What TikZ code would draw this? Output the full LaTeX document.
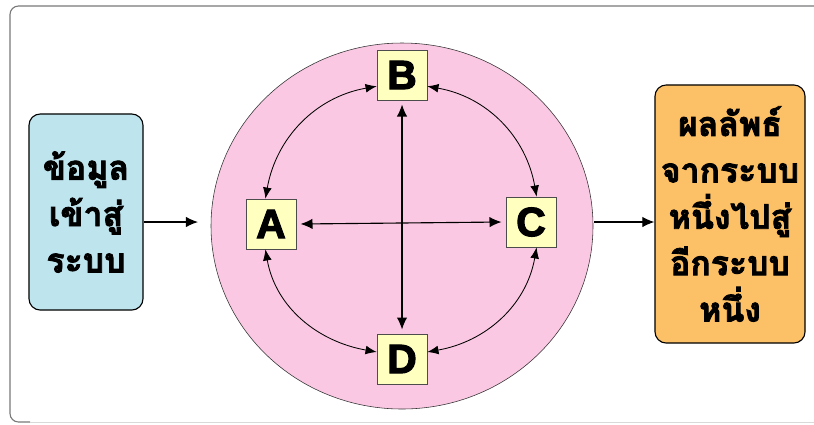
\documentclass[tikz,border=0pt]{standalone}
\usepackage{fontspec}
\usetikzlibrary{arrows.meta}
\newfontfamily\thaifont[Script=Thai, BoldFeatures={FakeBold=2.5}]{Loma}
\newfontfamily\partfont[BoldFeatures={FakeBold=3}]{Liberation Sans}

\definecolor{framegray}{RGB}{120,120,120}
\definecolor{bubblepink}{RGB}{250,200,226}
\definecolor{inblue}{RGB}{190,228,238}
\definecolor{outorange}{RGB}{252,192,102}
\definecolor{partyellow}{RGB}{255,255,192}

\tikzset{
  sidebox/.style={draw=black, thick, rounded corners=8pt, align=center,
    font=\thaifont\bfseries\fontsize{24}{33}\selectfont},
  partbox/.style={draw=black!70, fill=partyellow, minimum size=1.25cm,
    inner sep=0pt, font=\partfont\bfseries\fontsize{29}{30}\selectfont},
  flow/.style={thick, -{Latex[length=3mm,width=2.6mm]}},
  link/.style={thick, {Latex[length=3mm,width=2.6mm]}-{Latex[length=3mm,width=2.6mm]}},
  ring/.style={semithick, {Latex[length=2.8mm,width=2.2mm]}-{Latex[length=2.8mm,width=2.2mm]}}
}

\begin{document}
\begin{tikzpicture}[x=0.025cm, y=-0.025cm]
    \useasboundingbox (0,0) rectangle (814,424);

    % Frame
    \draw[framegray, thick, rounded corners=6pt] (814,6) -- (10,6) -- (10,422) -- (30,422);
    \draw[black!15] (30,422) -- (814,422);

    % System
    \draw[black!80, fill=bubblepink] (402,226) ellipse [x radius=191, y radius=183];

    % Inputs and outputs
    \node[sidebox, fill=inblue, minimum width=2.85cm, minimum height=4.9cm] (input) at (86,212)
        {ข้อมูล\\เข้าสู่\\ระบบ};
    \node[sidebox, fill=outorange, minimum width=3.75cm, minimum height=6.45cm] (output) at (730,214)
        {ผลลัพธ์\\จากระบบ\\หนึ่งไปสู่\\อีกระบบ\\หนึ่ง};

    % Parts
    \node[partbox] (b) at (402,75) {B};
    \node[partbox] (a) at (271,224) {A};
    \node[partbox] (c) at (531,222) {C};
    \node[partbox] (d) at (402,359) {D};

    \coordinate (sysin) at (198,222);
    \coordinate (sysout) at (594,222);
    \draw[flow] (input.east |- sysin) -- (sysin);
    \draw[flow] (sysout) -- (output.west |- sysout);

    % Links
    \draw[link] ([yshift=-3pt]b.south) -- ([yshift=3pt]d.north);
    \draw[link] ([xshift=3pt]a.east) -- ([xshift=-3pt]c.west);
    \draw[ring] ([yshift=-8pt]b.west) to[out=190, in=80] ([xshift=-4pt]a.north);
    \draw[ring] ([yshift=-8pt]b.east) to[out=-10, in=100] ([xshift=4pt]c.north);
    \draw[ring] ([xshift=4pt]c.south) to[out=-100, in=10] ([yshift=5pt]d.east);
    \draw[ring] ([xshift=-4pt]a.south) to[out=-80, in=170] ([yshift=5pt]d.west);
\end{tikzpicture}
\end{document}
